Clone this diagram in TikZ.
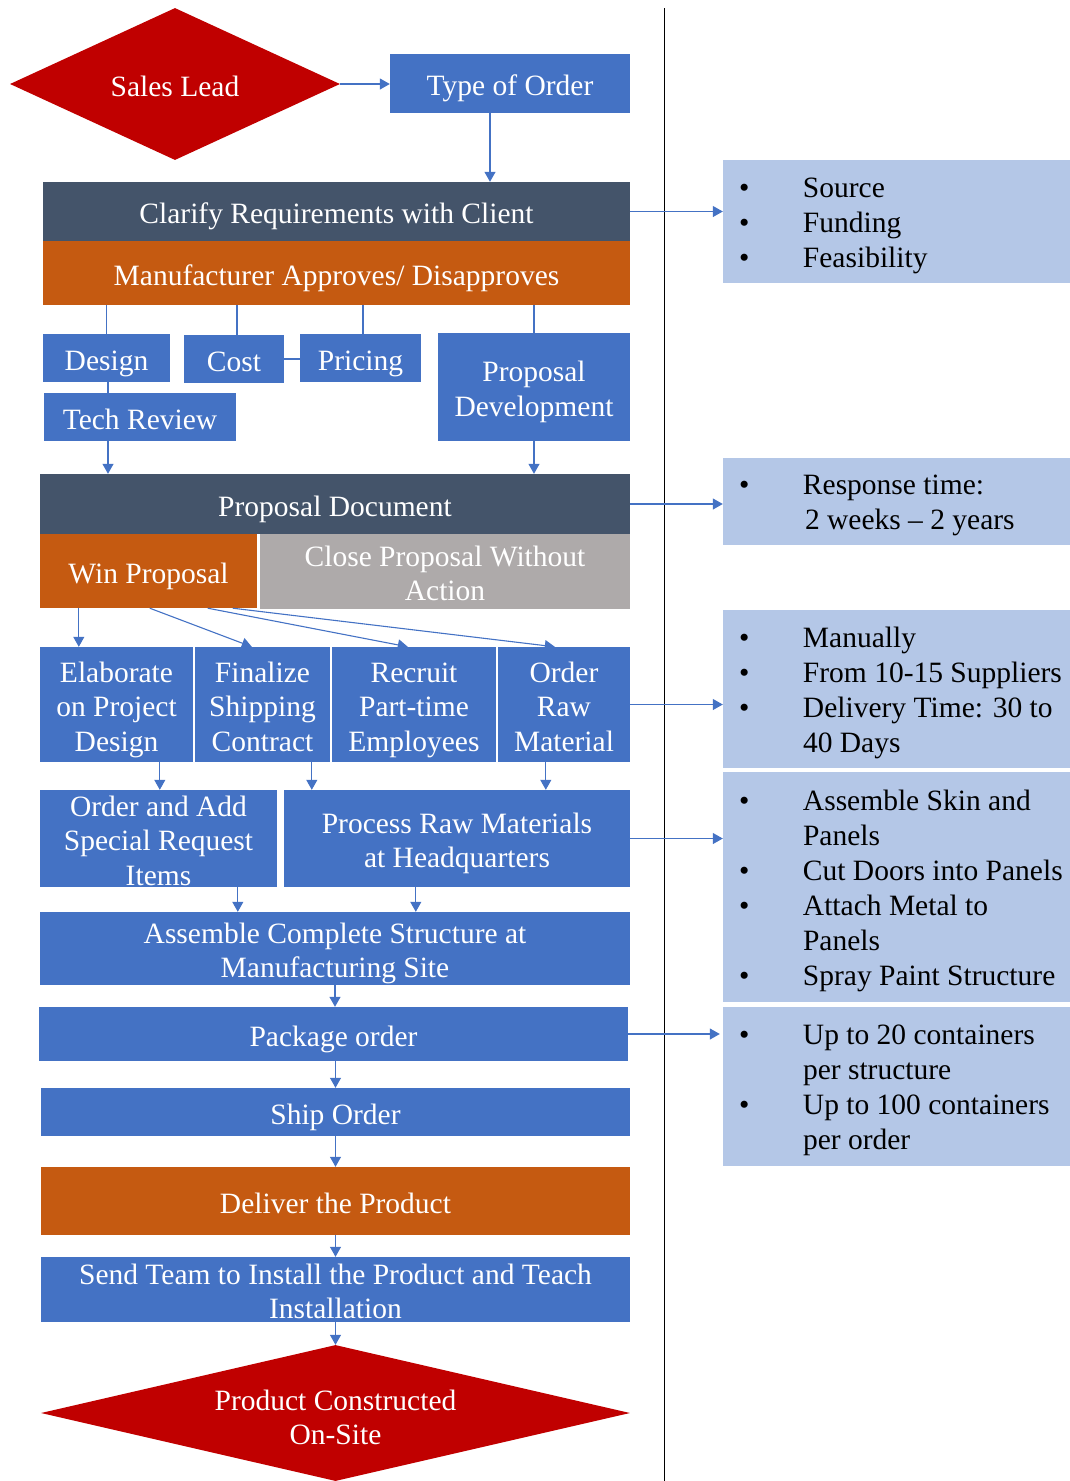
\documentclass[tikz,border=0pt]{standalone}
\usepackage{fontspec}
\setmainfont{Liberation Serif}
\usetikzlibrary{shapes.geometric,arrows.meta}
\definecolor{cblue}{HTML}{4472C4}
\definecolor{cslate}{HTML}{44546A}
\definecolor{corange}{HTML}{C55A11}
\definecolor{cred}{HTML}{C00000}
\definecolor{cgrey}{HTML}{AEAAAA}
\definecolor{clight}{HTML}{B4C7E7}
\newcommand{\Bu}{\makebox[70pt][l]{\hspace{6pt}\textbullet}}
\newcommand{\Nb}{\hspace{70pt}}
\begin{document}
\begin{tikzpicture}[x=1pt,y=-1pt,
  every node/.style={font=\fontsize{29.5}{34.5}\selectfont, inner sep=0pt},
  one/.style={text height=24pt, text depth=0pt},
  two/.style={text height=58.5pt, text depth=0pt},
  three/.style={text height=93pt, text depth=0pt},
  bx/.style={rectangle, fill=cblue, text=white, align=center, one},
  dk/.style={bx, fill=cslate},
  og/.style={bx, fill=corange},
  gy/.style={bx, fill=cgrey, text=white},
  dm/.style={diamond, fill=cred, text=white, align=center, one},
  lb/.style={rectangle, fill=clight, minimum width=347pt},
  lt/.style={anchor=west, align=left, text=black, font=\fontsize{29.5}{35}\selectfont, text depth=0pt},
  arr/.style={draw=cblue, line width=1.1pt, -{Triangle[length=10pt,width=11pt]}},
  ln/.style={draw=cblue, line width=1.1pt},
]
\useasboundingbox (0,0) rectangle (1070,1481);
% divider
\coordinate (vt) at (664,8);
\coordinate (vb) at (664,1481);
\draw[black, line width=1pt] (vt) -- (vb);

% main flow
\node[dm, aspect=2.17, minimum width=330pt, minimum height=152pt] (sales) at (175,84) {Sales Lead};
\node[bx, minimum width=240pt, minimum height=59pt] (typ) at (510,83.5) {Type of Order};
\node[dk, minimum width=587pt, minimum height=59pt] (clar) at (336.5,211.5) {Clarify Requirements with Client};
\node[og, minimum width=587pt, minimum height=64pt] (manu) at (336.5,273) {Manufacturer Approves/ Disapproves};
\node[bx, minimum width=127pt, minimum height=48pt] (design) at (106.5,358) {Design};
\node[bx, minimum width=100pt, minimum height=48pt] (cost) at (234,359) {Cost};
\node[bx, minimum width=121pt, minimum height=48pt] (pricing) at (360.5,358) {Pricing};
\node[bx, two, minimum width=192pt, minimum height=108pt] (propdev) at (534,387) {Proposal\\Development};
\node[bx, minimum width=192pt, minimum height=48pt] (tech) at (140,417) {Tech Review};
\node[dk, minimum width=590pt, minimum height=60pt] (pdoc) at (335,504) {Proposal Document};
\node[og, minimum width=217pt, minimum height=74pt] (win) at (148.5,571) {Win Proposal};
\node[gy, two, minimum width=370pt, minimum height=75pt] (close) at (445,571.5) {Close Proposal Without\\Action};
\node[bx, three, minimum width=153pt, minimum height=115pt] (elab) at (116.5,704.5) {Elaborate\\on Project\\Design};
\node[bx, three, minimum width=135pt, minimum height=115pt] (final) at (262.5,704.5) {Finalize\\Shipping\\Contract};
\node[bx, three, minimum width=164pt, minimum height=115pt] (recruit) at (414,704.5) {Recruit\\Part-time\\Employees};
\node[bx, three, minimum width=132pt, minimum height=115pt] (oraw) at (564,704.5) {Order\\Raw\\Material};
\node[bx, three, minimum width=237pt, minimum height=97pt] (oadd) at (158.5,838.5) {Order and Add\\Special Request\\Items};
\node[bx, two, minimum width=346pt, minimum height=97pt] (proc) at (457,838.5) {Process Raw Materials\\at Headquarters};
\node[bx, two, minimum width=590pt, minimum height=73pt] (asm) at (335,948.5) {Assemble Complete Structure at\\Manufacturing Site};
\node[bx, minimum width=589pt, minimum height=54pt] (pack) at (333.5,1034) {Package order};
\node[bx, minimum width=589pt, minimum height=48pt] (ship) at (335.5,1112) {Ship Order};
\node[og, minimum width=589pt, minimum height=68pt] (deliv) at (335.5,1201) {Deliver the Product};
\node[bx, two, minimum width=589pt, minimum height=65pt] (send) at (335.5,1289.5) {Send Team to Install the Product and Teach\\Installation};
\node[dm, text height=63pt, text depth=0pt, aspect=4.33, minimum width=589pt, minimum height=136pt] (prod) at (335.5,1413) {Product Constructed\\On-Site};

% side notes
\node[lb, minimum height=123pt] (l1) at (896.5,221.5) {};
\node[lt, text height=91pt] (t1) at ([xshift=10pt]l1.west) {\Bu Source\\\Bu Funding\\\Bu Feasibility};
\node[lb, minimum height=87pt] (l2) at (896.5,501.5) {};
\node[lt, text height=56pt] (t2) at ([xshift=10pt]l2.west) {\Bu Response time:\\\hspace{72pt}2 weeks -- 2 years};
\node[lb, minimum height=158pt] (l3) at (896.5,689) {};
\node[lt, text height=126pt] (t3) at ([xshift=10pt]l3.west) {\Bu Manually\\\Bu From 10-15 Suppliers\\\Bu Delivery Time: 30 to\\\Nb 40 Days};
\node[lb, minimum height=230pt] (l4) at (896.5,887) {};
\node[lt, text height=196pt] (t4) at ([xshift=10pt]l4.west) {\Bu Assemble Skin and\\\Nb Panels\\\Bu Cut Doors into Panels\\\Bu Attach Metal to\\\Nb Panels\\\Bu Spray Paint Structure};
\node[lb, minimum height=159pt] (l5) at (896.5,1086.5) {};
\node[lt, text height=126pt] (t5) at ([xshift=10pt]l5.west) {\Bu Up to 20 containers\\\Nb per structure\\\Bu Up to 100 containers\\\Nb per order};

% connectors
\draw[arr] (sales.east) -- (sales.east -| typ.west);
\coordinate (ty) at ([xshift=-20pt]typ.south);
\draw[arr] (ty) -- (ty |- clar.north);
\draw[arr] (clar.east) -- (clar.east -| l1.west);
\draw[ln] (manu.south -| design.north) -- (design.north);
\coordinate (cn) at ([xshift=3pt]cost.north);
\draw[ln] (manu.south -| cn) -- (cn);
\coordinate (pn) at ([xshift=2.5pt]pricing.north);
\draw[ln] (manu.south -| pn) -- (pn);
\draw[ln] (manu.south -| propdev.north) -- (propdev.north);
\draw[ln] (cost.east) -- (cost.east -| pricing.west);
\coordinate (ds) at ([xshift=1.5pt]design.south);
\draw[ln] (ds) -- (ds |- tech.north);
\draw[arr] (tech.south -| ds) -- (pdoc.north -| ds);
\draw[arr] (propdev.south) -- (propdev.south |- pdoc.north);
\draw[arr] (pdoc.east) -- (pdoc.east -| l2.west);
\draw[arr] ([xshift=39pt]win.south west) -- ([xshift=39pt]elab.north west);
\draw[arr] ([xshift=110pt]win.south west) -- ([xshift=57pt]final.north west);
\draw[arr] ([xshift=168pt]win.south west) -- ([xshift=76pt]recruit.north west);
\draw[arr] ([xshift=193pt]win.south west) -- ([xshift=57pt]oraw.north west);
\draw[arr] (oraw.east) -- (oraw.east -| l3.west);
\coordinate (e1) at ([xshift=120pt]elab.south west);
\draw[arr] (e1) -- (e1 |- oadd.north);
\coordinate (f1) at ([xshift=117pt]final.south west);
\draw[arr] (f1) -- (f1 |- proc.north);
\coordinate (o1) at ([xshift=48pt]oraw.south west);
\draw[arr] (o1) -- (o1 |- proc.north);
\draw[arr] (proc.east) -- (proc.east -| l4.west);
\coordinate (a1) at ([xshift=198pt]oadd.south west);
\draw[arr] (a1) -- (a1 |- asm.north);
\coordinate (a2) at ([xshift=132pt]proc.south west);
\draw[arr] (a2) -- (a2 |- asm.north);
\draw[arr] (asm.south) -- (asm.south |- pack.north);
\coordinate (p5) at ([xshift=-3pt]l5.west);
\draw[arr] (pack.east) -- (pack.east -| p5);
\draw[arr] (pack.south -| ship.north) -- (ship.north);
\draw[arr] (ship.south) -- (deliv.north);
\draw[arr] (deliv.south) -- (send.north);
\draw[arr] (send.south) -- (prod.north);
\end{tikzpicture}
\end{document}
